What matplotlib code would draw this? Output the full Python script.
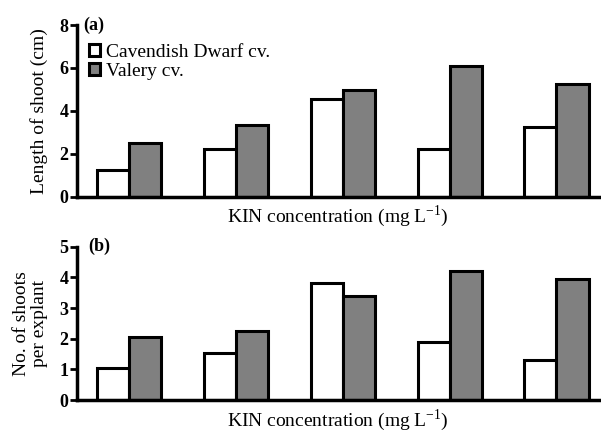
import matplotlib
matplotlib.use('Agg')
import matplotlib.pyplot as plt
import numpy as np

plt.rcParams['font.family'] = ['Liberation Serif', 'DejaVu Serif']
plt.rcParams['mathtext.fontset'] = 'custom'
plt.rcParams['mathtext.rm'] = 'Liberation Serif'

# data
groups = [0, 1, 2, 3, 4]
shoot_len_cav = [1.25, 2.2, 4.55, 2.2, 3.25]
shoot_len_val = [2.5, 3.35, 4.98, 6.1, 5.25]
shoots_cav = [1.03, 1.54, 3.82, 1.9, 1.3]
shoots_val = [2.06, 2.25, 3.39, 4.21, 3.96]
series_names = ['Cavendish Dwarf cv.', 'Valery cv.']

fig = plt.figure(figsize=(6.01, 4.32), dpi=100)
ax1 = fig.add_axes([0.128, 0.545, 0.869, 0.397])
ax2 = fig.add_axes([0.128, 0.074, 0.869, 0.355])

w = 0.3
x = np.array(groups)


def draw(ax, a, b, ymax, label, tag):
    ax.bar(x - w/2, a, w, color='white', edgecolor='black', linewidth=2.2, label=series_names[0])
    ax.bar(x + w/2, b, w, color='#808080', edgecolor='black', linewidth=2.2, label=series_names[1])
    ax.set_xlim(-0.49, 4.4)
    ax.set_ylim(0, ymax)
    ax.set_yticks(range(0, ymax + 1, 2 if ymax == 8 else 1))
    ax.set_xticks([])
    for s in ['top', 'right']:
        ax.spines[s].set_visible(False)
    for s in ['left', 'bottom']:
        ax.spines[s].set_linewidth(2.5)
    ax.tick_params(axis='y', direction='out', length=5, width=2, pad=1, labelsize=13)
    for t in ax.get_yticklabels():
        t.set_fontweight('bold')
    ax.set_ylabel(label, fontsize=14, labelpad=8)
    ax.set_xlabel(r'KIN concentration (mg L$^{-1}$)', fontsize=14, labelpad=5)
    ax.text(0.012, 1.0, tag, transform=ax.transAxes, fontsize=13, fontweight='bold',
            va='center', ha='left')


draw(ax1, shoot_len_cav, shoot_len_val, 8, 'Length of shoot (cm)', '(a)')
draw(ax2, shoots_cav, shoots_val, 5, 'No. of shoots\nper explant', '(b)')
ax2.texts[0].set_x(0.022)
ax2.yaxis.label.set_linespacing(1.1)

ax1.legend(loc='upper left', bbox_to_anchor=(0.0, 0.96), frameon=False, fontsize=14,
           handlelength=0.6, handleheight=0.6, handletextpad=0.3, labelspacing=0.1,
           borderaxespad=0.2)

fig.savefig('out.png', dpi=100)
